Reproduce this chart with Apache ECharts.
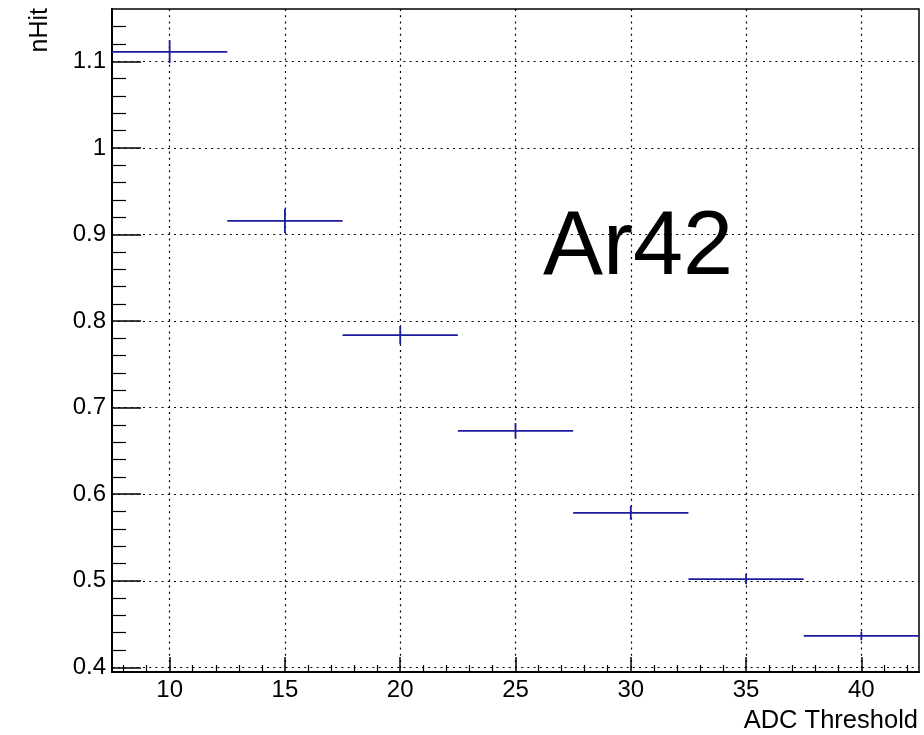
<!DOCTYPE html>
<html>
<head>
<meta charset="utf-8">
<script src="https://cdn.jsdelivr.net/npm/echarts@6/dist/echarts.min.js"></script>
<style>
html,body{margin:0;padding:0;background:#fff;}
#chart{width:924px;height:735px;}
</style>
</head>
<body>
<div id="chart"></div>
<script>
// Data
const thresholds = [10, 15, 20, 25, 30, 35, 40];
const nHit = [1.111, 0.9157, 0.7837, 0.6732, 0.5785, 0.502, 0.4363];
const nHitErr = [0.013, 0.014, 0.0105, 0.009, 0.008, 0.006, 0.005];
const binHalfWidth = 2.5;

const xMajorTicks = [10, 15, 20, 25, 30, 35, 40];
const xMinorTicks = [8, 9, 11, 12, 13, 14, 16, 17, 18, 19, 21, 22, 23, 24, 26, 27, 28, 29, 31, 32, 33, 34, 36, 37, 38, 39, 41, 42];
const yMajorTicks = [0.4, 0.5, 0.6, 0.7, 0.8, 0.9, 1.0, 1.1];
const yMinorTicks = [0.42, 0.44, 0.46, 0.48, 0.52, 0.54, 0.56, 0.58, 0.62, 0.64, 0.66, 0.68,
  0.72, 0.74, 0.76, 0.78, 0.82, 0.84, 0.86, 0.88, 0.92, 0.94, 0.96, 0.98,
  1.02, 1.04, 1.06, 1.08, 1.12, 1.14];

const xMin = 7.5, xMax = 42.5;
const yMin = 0.3946, yMax = 1.1605;

const FONT = '"Liberation Sans", Arial, Helvetica, sans-serif';
const dotted = { color: '#000', width: 1.2, type: [2, 4.2] };

const seriesData = thresholds.map((t, i) => [t, nHit[i], nHitErr[i]]);

const chart = echarts.init(document.getElementById('chart'), null, { renderer: 'canvas' });

const option = {
  animation: false,
  backgroundColor: '#fff',
  grid: {
    left: 112, right: 5, top: 9, bottom: 63,
    show: true, borderColor: '#000', borderWidth: 1.5, backgroundColor: 'transparent'
  },
  xAxis: [
    {
      type: 'value', min: xMin, max: xMax, position: 'bottom',
      axisLine: { show: true, onZero: false, lineStyle: { color: '#000', width: 2 } },
      axisTick: { show: true, inside: true, length: 15, customValues: xMajorTicks, lineStyle: { color: '#000', width: 1.5 } },
      axisLabel: { show: true, customValues: xMajorTicks, color: '#000', fontSize: 24, fontFamily: FONT, margin: 6 },
      splitLine: { show: true, lineStyle: dotted }
    },
    {
      type: 'value', min: xMin, max: xMax, position: 'bottom', offset: 0,
      axisLine: { show: false, onZero: false },
      axisTick: { show: true, inside: true, length: 7, customValues: xMinorTicks, lineStyle: { color: '#000', width: 1.2 } },
      axisLabel: { show: false },
      splitLine: { show: false }
    }
  ],
  yAxis: [
    {
      type: 'value', min: yMin, max: yMax, position: 'left',
      axisLine: { show: true, onZero: false, lineStyle: { color: '#000', width: 2 } },
      axisTick: { show: true, inside: true, length: 29, customValues: yMajorTicks, lineStyle: { color: '#000', width: 1.5 } },
      axisLabel: { show: true, customValues: yMajorTicks, color: '#000', fontSize: 24, fontFamily: FONT, margin: 6,
        formatter: v => String(Math.round(v * 10) / 10) },
      splitLine: { show: true, lineStyle: dotted }
    },
    {
      type: 'value', min: yMin, max: yMax, position: 'left', offset: 0,
      axisLine: { show: false, onZero: false },
      axisTick: { show: true, inside: true, length: 14, customValues: yMinorTicks, lineStyle: { color: '#000', width: 1.2 } },
      axisLabel: { show: false },
      splitLine: { show: false }
    }
  ],
  series: [
    {
      type: 'custom',
      xAxisIndex: 0, yAxisIndex: 0,
      data: seriesData,
      clip: true,
      renderItem: function (params, api) {
        const x = api.value(0), y = api.value(1), e = api.value(2);
        const pl = api.coord([x - binHalfWidth, y]);
        const pr = api.coord([x + binHalfWidth, y]);
        const pt = api.coord([x, y + e]);
        const pb = api.coord([x, y - e]);
        const style = { stroke: '#1c1c9c', lineWidth: 1.8 };
        return {
          type: 'group',
          children: [
            { type: 'line', shape: { x1: pl[0], y1: pl[1], x2: pr[0], y2: pr[1] }, style: style },
            { type: 'line', shape: { x1: pt[0], y1: pt[1], x2: pb[0], y2: pb[1] }, style: style }
          ]
        };
      }
    }
  ],
  graphic: [
    { type: 'text', x: 40, y: 8, rotation: Math.PI / 2,
      style: { text: 'nHit', fill: '#000', font: '25px ' + FONT, align: 'right', verticalAlign: 'middle' } },
    { type: 'text', x: 918, y: 721,
      style: { text: 'ADC Threshold', fill: '#000', font: '25.5px ' + FONT, align: 'right', verticalAlign: 'middle' } },
    { type: 'text', x: 543, y: 249,
      style: { text: 'Ar42', fill: '#000', font: '90px ' + FONT, align: 'left', verticalAlign: 'middle' } }
  ]
};

chart.setOption(option);
</script>
</body>
</html>
